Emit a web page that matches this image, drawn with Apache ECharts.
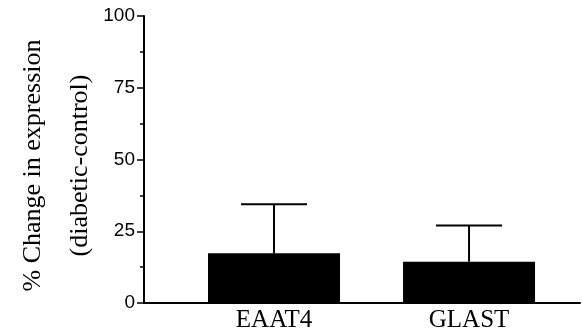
<!DOCTYPE html>
<html>
<head>
<meta charset="utf-8">
<script src="https://cdn.jsdelivr.net/npm/echarts@6/dist/echarts.min.js"></script>
<style>
  html, body { margin: 0; padding: 0; background: #fff; }
  #chart { width: 582px; height: 336px; }
</style>
</head>
<body>
<div id="chart"></div>
<script>
// data
const categories = ['EAAT4', 'GLAST']
const means = [17.3, 14.4]
const errors = [17.1, 12.6]
const yTicks = [0, 25, 50, 75, 100]

// bars sit on a value axis so the first bar can start well right of the y axis
const positions = categories.map((c, i) => i + 1)
const barData = positions.map((p, i) => [p, means[i]])
const errData = positions.map((p, i) => [p, means[i], means[i] + errors[i]])

const chart = echarts.init(document.getElementById('chart'))
const option = {
  animation: false,
  grid: { left: 144, right: 2, top: 16, bottom: 33, outerBoundsMode: 'none', containLabel: false },
  xAxis: {
    type: 'value',
    min: 0.3333,
    max: 2.569,
    splitLine: { show: false },
    axisTick: { show: false },
    axisLine: { show: true, lineStyle: { color: '#000', width: 2 } },
    axisLabel: {
      customValues: positions,
      formatter: v => categories[Math.round(v) - 1] || '',
      fontFamily: 'Liberation Serif',
      fontSize: 25,
      color: '#000',
      margin: 5
    }
  },
  yAxis: {
    type: 'value',
    min: yTicks[0],
    max: yTicks[yTicks.length - 1],
    interval: 25,
    splitLine: { show: false },
    axisLine: { show: true, lineStyle: { color: '#000', width: 2 } },
    axisTick: { show: true, length: 7, lineStyle: { color: '#000', width: 1.5 } },
    minorTick: { show: true, splitNumber: 2, length: 4, lineStyle: { color: '#000', width: 1.5 } },
    axisLabel: { fontFamily: 'Liberation Sans', fontSize: 19, color: '#000', margin: 9 },
    name: '% Change in expression\n(diabetic-control)',
    nameLocation: 'middle',
    nameGap: 40,
    nameMoveOverlap: false,
    nameRotate: 90,
    nameTextStyle: { fontFamily: 'Liberation Serif', fontSize: 26, color: '#000', lineHeight: 47, padding: [0, 12, 0, 0] }
  },
  series: [
    {
      type: 'bar',
      data: barData,
      barWidth: 132,
      itemStyle: { color: '#000' }
    },
    {
      type: 'custom',
      data: errData,
      z: 1,
      renderItem: (params, api) => {
        const x = api.value(0)
        const base = api.coord([x, api.value(1)])
        const top = api.coord([x, api.value(2)])
        const half = 33
        const style = { stroke: '#000', lineWidth: 2 }
        return {
          type: 'group',
          children: [
            { type: 'line', shape: { x1: base[0], y1: base[1], x2: top[0], y2: top[1] }, style },
            { type: 'line', shape: { x1: top[0] - half, y1: top[1], x2: top[0] + half, y2: top[1] }, style }
          ]
        }
      }
    }
  ]
}
chart.setOption(option)
</script>
</body>
</html>
